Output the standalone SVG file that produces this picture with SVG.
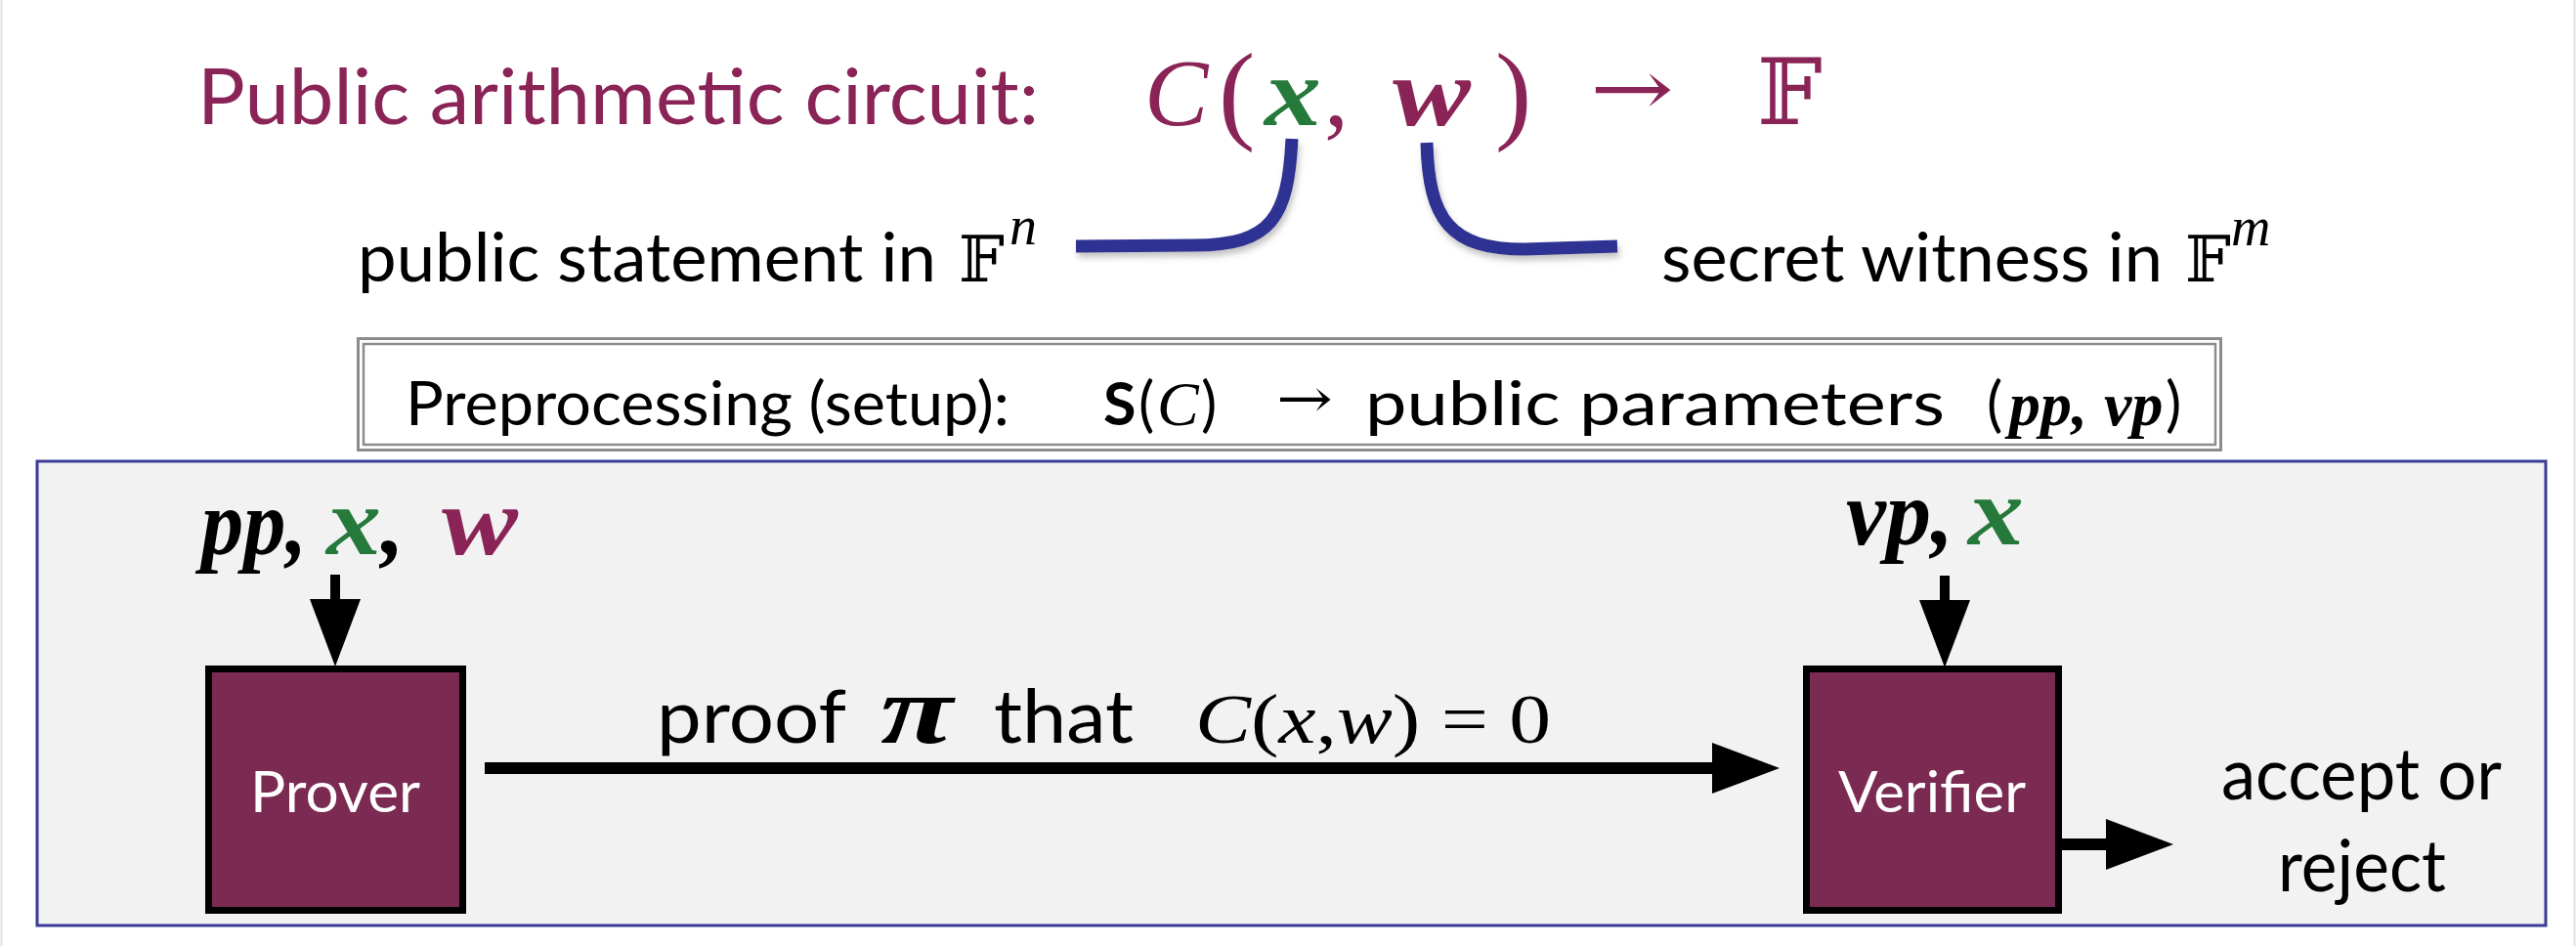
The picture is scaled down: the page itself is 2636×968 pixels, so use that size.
<svg xmlns="http://www.w3.org/2000/svg" width="2636" height="968" viewBox="0 0 2636 968">
<style>
.sans{font-family:Lato,"Liberation Sans",sans-serif;}
.math{font-family:"Liberation Serif","DejaVu Serif",serif;}
.dbl{font-family:"DejaVu Serif","DejaVu Sans",serif;}
.bi{font-weight:bold;font-style:italic;}
.it{font-style:italic;}
.maroon{fill:#8a2457;}
.green{fill:#25793a;}
.blk{fill:#000;}
.node rect{fill:#7b2a52;stroke:#000;stroke-width:7;}
.node text{fill:#fff;font-size:58px;}
.conn{stroke:#000;fill:none;}
.brace{stroke:#2e3192;stroke-width:13;fill:none;filter:url(#sh);}
</style>
<defs>
<marker id="ah" markerUnits="userSpaceOnUse" markerWidth="70" markerHeight="54" refX="0" refY="26" orient="auto">
<path d="M0,0 L69,26 L0,52 z" fill="#000"/>
</marker>
<filter id="sh" x="-20%" y="-20%" width="140%" height="140%">
<feDropShadow dx="2" dy="5" stdDeviation="3" flood-color="#888" flood-opacity="0.5"/>
</filter>
</defs>
<rect x="0" y="0" width="2636" height="968" fill="#fff"/>
<line x1="1.5" y1="0" x2="1.5" y2="968" stroke="#e2e2e2" stroke-width="2"/>
<line x1="2634.5" y1="0" x2="2634.5" y2="968" stroke="#e2e2e2" stroke-width="2"/>

<g id="title">
<text class="sans maroon" x="202" y="127" font-size="80" textLength="861" lengthAdjust="spacingAndGlyphs">Public arithmetic circuit:</text>
<text class="math it maroon" x="1171" y="128" font-size="98">C</text>
<text class="math maroon" x="1247" y="132" font-size="112">(</text>
<text class="math bi green" x="1294" y="128" font-size="100" textLength="58" lengthAdjust="spacingAndGlyphs">x</text>
<text class="math maroon" x="1355" y="128" font-size="100">,</text>
<text class="math bi maroon" x="1425" y="128" font-size="100" textLength="80" lengthAdjust="spacingAndGlyphs">w</text>
<text class="math maroon" x="1530" y="132" font-size="112">)</text>
<text class="dbl maroon" x="1627" y="118" font-size="80" textLength="86" lengthAdjust="spacingAndGlyphs">→</text>
<text class="dbl maroon" x="1798" y="127" font-size="94">𝔽</text>
</g>

<g id="braces">
<path class="brace" d="M1322,142 C1318,222 1302,251 1222,251 L1101,252"/>
<path class="brace" d="M1460,146 C1462,225 1484,255 1560,255 L1655,252"/>
</g>

<g id="statement">
<text class="sans blk" x="366" y="288" font-size="70" textLength="592" lengthAdjust="spacingAndGlyphs">public statement in</text>
<text class="dbl blk" x="981" y="288" font-size="66">𝔽</text>
<text class="math it blk" x="1033" y="250" font-size="56">n</text>
</g>

<g id="witness">
<text class="sans blk" x="1700" y="288" font-size="70" textLength="513" lengthAdjust="spacingAndGlyphs">secret witness in</text>
<text class="dbl blk" x="2236" y="288" font-size="66">𝔽</text>
<text class="math it blk" x="2283" y="251" font-size="56">m</text>
</g>

<g id="setup">
<rect x="366.5" y="346.5" width="1906" height="114" fill="#fff" stroke="#8c8c8c" stroke-width="3"/>
<rect x="372" y="352" width="1895" height="103" fill="none" stroke="#8c8c8c" stroke-width="2.5"/>
<text class="sans blk" x="415" y="435" font-size="61" textLength="618" lengthAdjust="spacingAndGlyphs">Preprocessing (setup):</text>
<text class="sans blk" x="1129" y="435" font-size="61" font-weight="bold">S</text>
<text class="sans blk" x="1165" y="435" font-size="61">(</text>
<text class="math it blk" x="1184" y="435" font-size="64">C</text>
<text class="sans blk" x="1229" y="435" font-size="61">)</text>
<text class="dbl blk" x="1306" y="427" font-size="56" textLength="58" lengthAdjust="spacingAndGlyphs">→</text>
<text class="sans blk" x="1397" y="435" font-size="61" textLength="593" lengthAdjust="spacingAndGlyphs">public parameters</text>
<text class="sans blk" x="2033" y="435" font-size="61">(</text>
<text class="math bi blk" x="2056" y="435" font-size="64">pp,</text>
<text class="math bi blk" x="2153" y="435" font-size="64">vp</text>
<text class="sans blk" x="2216" y="435" font-size="61">)</text>
</g>

<g id="panel">
<rect x="38" y="472" width="2567" height="475" fill="#f2f2f2" stroke="#3b3b98" stroke-width="3"/>
</g>

<g id="prover-input">
<text class="math bi blk" x="206" y="567" font-size="96" textLength="108" lengthAdjust="spacingAndGlyphs">pp,</text>
<text class="math bi green" x="334" y="567" font-size="100" textLength="56" lengthAdjust="spacingAndGlyphs">x</text>
<text class="math bi blk" x="390" y="567" font-size="96">,</text>
<text class="math bi maroon" x="452" y="567" font-size="100" textLength="78" lengthAdjust="spacingAndGlyphs">w</text>
</g>

<g id="verifier-input">
<text class="math bi blk" x="1889" y="557" font-size="96" textLength="110" lengthAdjust="spacingAndGlyphs">vp,</text>
<text class="math bi green" x="2014" y="557" font-size="100" textLength="57" lengthAdjust="spacingAndGlyphs">x</text>
</g>

<g id="connectors">
<line class="conn" x1="343" y1="588" x2="343" y2="613" stroke-width="10" marker-end="url(#ah)"/>
<line class="conn" x1="1990" y1="589" x2="1990" y2="614" stroke-width="10" marker-end="url(#ah)"/>
<line class="conn" x1="496" y1="786" x2="1752" y2="786" stroke-width="12" marker-end="url(#ah)"/>
<line class="conn" x1="2106" y1="864" x2="2155" y2="864" stroke-width="12" marker-end="url(#ah)"/>
</g>

<g id="proof-label">
<text class="sans blk" x="672" y="760" font-size="76" textLength="194" lengthAdjust="spacingAndGlyphs">proof</text>
<text class="math bi blk" x="901" y="760" font-size="100" textLength="74" lengthAdjust="spacingAndGlyphs">π</text>
<text class="sans blk" x="1017" y="760" font-size="76" textLength="143" lengthAdjust="spacingAndGlyphs">that</text>
<text class="math blk" x="1223" y="760" font-size="72" textLength="364" lengthAdjust="spacingAndGlyphs"><tspan class="it">C</tspan>(<tspan class="it">x</tspan>,<tspan class="it">w</tspan>) = 0</text>
</g>

<g id="prover" class="node">
<rect x="213.5" y="684.5" width="260" height="247"/>
<text class="sans" x="343" y="831" text-anchor="middle" textLength="174" lengthAdjust="spacingAndGlyphs">Prover</text>
</g>

<g id="verifier" class="node">
<rect x="1848.5" y="684.5" width="258" height="247"/>
<text class="sans" x="1977" y="831" text-anchor="middle" textLength="192" lengthAdjust="spacingAndGlyphs">Verifier</text>
</g>

<g id="result">
<text class="sans blk" x="2273" y="818" font-size="74" textLength="287" lengthAdjust="spacingAndGlyphs">accept or</text>
<text class="sans blk" x="2331" y="912" font-size="74" textLength="172" lengthAdjust="spacingAndGlyphs">reject</text>
</g>
</svg>
